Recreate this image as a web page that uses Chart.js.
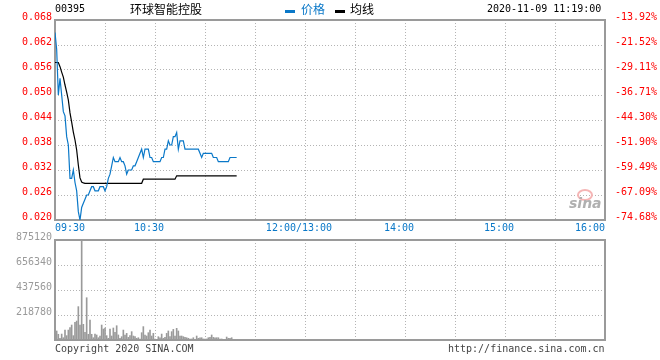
<!DOCTYPE html>
<html>
<head>
<meta charset="utf-8">
<script src="https://cdn.jsdelivr.net/npm/chart.js@4/dist/chart.umd.min.js"></script>
<style>
  body { margin: 0; background: #fff; }
  #wrap { position: relative; width: 660px; height: 360px; overflow: hidden; font-family: "DejaVu Sans Mono", monospace; font-size: 10px; }
  .t { position: absolute; white-space: pre; line-height: 12px; }
  .cjk { font-family: "Noto Sans CJK SC", sans-serif; font-size: 12px; line-height: 14px; }
  canvas { position: absolute; left: 0; }
</style>
</head>
<body>
<div id="wrap">
  <canvas id="priceChart" width="660" height="240" style="top:0"></canvas>
  <canvas id="volChart" width="660" height="130" style="top:230px"></canvas>

  <div class="t" style="left:55px;top:3px;color:#000">00395</div>
  <div class="t cjk" style="left:130px;top:2px;color:#000">环球智能控股</div>
  <div style="position:absolute;left:285px;top:10px;width:10px;height:3px;background:#0a78c8"></div>
  <div class="t cjk" style="left:301px;top:2px;color:#0a78c8">价格</div>
  <div style="position:absolute;left:335px;top:10px;width:10px;height:3px;background:#000"></div>
  <div class="t cjk" style="left:350px;top:2px;color:#000">均线</div>
  <div class="t" style="left:487px;top:3px;color:#000">2020-11-09 11:19:00</div>

  <div style="position:absolute;left:577px;top:189px;width:12px;height:8px;border:2px solid #f5b5b5;border-radius:50%"></div>
  <div class="t" style="left:569px;top:197px;color:#b0b0b0;font-family:'DejaVu Sans',sans-serif;font-size:14px;font-style:italic;font-weight:bold">sina</div>

  <div class="t" style="left:55px;top:343px;color:#444">Copyright 2020 SINA.COM</div>
  <div class="t" style="left:448px;top:343px;color:#444">http://finance.sina.com.cn</div>
</div>
<script>
// minute index from 09:30 (lunch break removed), 330 minutes in a session day
const xTickPos = [0, 60, 150, 210, 270, 330];
const xTickText = ['09:30', '10:30', '12:00/13:00', '14:00', '15:00', '16:00'];

const priceTicks = ['0.020', '0.026', '0.032', '0.038', '0.044', '0.050', '0.056', '0.062', '0.068'];
const pctTicks = ['-74.68%', '-67.09%', '-59.49%', '-51.90%', '-44.30%', '-36.71%', '-29.11%', '-21.52%', '-13.92%'];
const volTicks = ['', '218780', '437560', '656340', '875120'];

const price = [
  0.065, 0.061, 0.050, 0.054, 0.050, 0.046, 0.045, 0.040, 0.038, 0.030,
  0.030, 0.032, 0.029, 0.027, 0.022, 0.020, 0.023, 0.024, 0.025, 0.026,
  0.026, 0.027, 0.028, 0.028, 0.027, 0.027, 0.027, 0.028, 0.028, 0.028,
  0.027, 0.028, 0.030, 0.031, 0.033, 0.035, 0.034, 0.034, 0.034, 0.035,
  0.034, 0.034, 0.033, 0.031, 0.032, 0.032, 0.032, 0.033, 0.033, 0.034,
  0.035, 0.036, 0.037, 0.035, 0.037, 0.037, 0.037, 0.035, 0.035, 0.034,
  0.034, 0.034, 0.034, 0.034, 0.035, 0.035, 0.037, 0.037, 0.039, 0.038,
  0.038, 0.040, 0.040, 0.041, 0.037, 0.039, 0.039, 0.039, 0.037, 0.037,
  0.037, 0.037, 0.037, 0.037, 0.037, 0.037, 0.037, 0.036, 0.035, 0.036,
  0.036, 0.036, 0.036, 0.036, 0.036, 0.035, 0.035, 0.035, 0.034, 0.034,
  0.034, 0.034, 0.034, 0.034, 0.034, 0.035, 0.035, 0.035, 0.035, 0.035
];

const avgPrice = [
  0.0578, 0.0578, 0.0578, 0.0568, 0.0555, 0.0543, 0.0524, 0.0507, 0.0488, 0.0457,
  0.0435, 0.0411, 0.0392, 0.0368, 0.0332, 0.0301, 0.0291, 0.0289, 0.0288, 0.0288,
  0.0288, 0.0288, 0.0288, 0.0288, 0.0288, 0.0288, 0.0288, 0.0288, 0.0288, 0.0288,
  0.0288, 0.0288, 0.0288, 0.0288, 0.0288, 0.0288, 0.0288, 0.0288, 0.0288, 0.0288,
  0.0288, 0.0288, 0.0288, 0.0288, 0.0288, 0.0288, 0.0288, 0.0288, 0.0288, 0.0288,
  0.0288, 0.0288, 0.0288, 0.0298, 0.0298, 0.0298, 0.0298, 0.0298, 0.0298, 0.0298,
  0.0298, 0.0298, 0.0298, 0.0298, 0.0298, 0.0298, 0.0298, 0.0298, 0.0298, 0.0298,
  0.0298, 0.0298, 0.0298, 0.0306, 0.0306, 0.0306, 0.0306, 0.0306, 0.0306, 0.0306,
  0.0306, 0.0306, 0.0306, 0.0306, 0.0306, 0.0306, 0.0306, 0.0306, 0.0306, 0.0306,
  0.0306, 0.0306, 0.0306, 0.0306, 0.0306, 0.0306, 0.0306, 0.0306, 0.0306, 0.0306,
  0.0306, 0.0306, 0.0306, 0.0306, 0.0306, 0.0306, 0.0306, 0.0306, 0.0306, 0.0306
];

const volume = [
  60000, 79000, 50000, 15000, 52000, 20000, 87000, 38000, 87000, 108000,
  131000, 38000, 155000, 166000, 292000, 131000, 875120, 137000, 67000, 370000,
  50000, 175000, 50000, 20000, 52000, 44000, 20000, 35000, 131000, 96000,
  105000, 38000, 15000, 96000, 35000, 105000, 67000, 125000, 44000, 15000,
  29000, 87000, 44000, 58000, 23000, 38000, 73000, 35000, 29000, 15000,
  20000, 9000, 64000, 117000, 44000, 35000, 64000, 87000, 35000, 58000,
  9000, 5000, 29000, 20000, 52000, 15000, 23000, 58000, 79000, 29000,
  73000, 93000, 35000, 102000, 79000, 35000, 35000, 29000, 23000, 20000,
  15000, 9000, 9000, 20000, 5000, 35000, 15000, 20000, 20000, 9000,
  9000, 9000, 20000, 23000, 44000, 23000, 20000, 20000, 20000, 9000,
  9000, 5000, 5000, 26000, 15000, 15000, 20000, 5000, 5000, 5000
];

const BLUE = '#0a78c8';
const GRID = '#b4b4b4';
const mono = { family: 'DejaVu Sans Mono', size: 10 };

// grey box round the plot area, drawn under the data
const frame = {
  id: 'frame',
  beforeDatasetsDraw(chart) {
    const { ctx, chartArea: a } = chart;
    ctx.save();
    ctx.strokeStyle = '#9a9a9a';
    ctx.lineWidth = 2;
    ctx.strokeRect(a.left, a.top, a.right - a.left, a.bottom - a.top);
    ctx.restore();
  }
};

const xScale = (showLabels) => ({
  type: 'linear',
  min: 0,
  max: 330,
  offset: false,
  grid: { color: GRID, drawTicks: false, offset: false },
  border: { display: false, dash: [1, 2] },
  ticks: {
    display: showLabels,
    stepSize: 30,
    autoSkip: false,
    maxRotation: 0,
    align: 'inner',
    padding: 2,
    color: BLUE,
    font: mono,
    callback: (value) => {
      const i = xTickPos.indexOf(value);
      if (i < 0) return '';
      // middle labels sit a little left of their grid line
      return (i === 0 || i === xTickPos.length - 1) ? xTickText[i] : xTickText[i] + '  ';
    }
  },
  afterFit: (scale) => { scale.height = 20; }
});

const toPoints = (arr) => arr.map((v, i) => ({ x: i, y: v }));

new Chart(document.getElementById('priceChart').getContext('2d'), {
  type: 'line',
  data: {
    datasets: [
      {
        label: '价格',
        data: toPoints(price),
        borderColor: BLUE,
        borderWidth: 1.2,
        pointRadius: 0,
        tension: 0,
        yAxisID: 'y'
      },
      {
        label: '均线',
        data: toPoints(avgPrice),
        borderColor: '#000',
        borderWidth: 1.2,
        pointRadius: 0,
        tension: 0,
        yAxisID: 'y'
      }
    ]
  },
  options: {
    responsive: false,
    animation: false,
    layout: { padding: { top: 20 } },
    plugins: { legend: { display: false }, tooltip: { enabled: false } },
    scales: {
      x: xScale(true),
      y: {
        position: 'left',
        min: 0.020,
        max: 0.068,
        grid: { color: GRID, drawTicks: false },
        border: { display: false, dash: [1, 2] },
        ticks: {
          stepSize: 0.006,
          padding: 3,
          labelOffset: -3,
          color: '#ff0000',
          font: mono,
          callback: (v, i) => priceTicks[i]
        },
        afterFit: (scale) => { scale.width = 55; }
      },
      y1: {
        position: 'right',
        min: 0.020,
        max: 0.068,
        grid: { display: false },
        border: { display: false },
        ticks: {
          stepSize: 0.006,
          padding: 2,
          labelOffset: -3,
          color: '#ff0000',
          font: mono,
          callback: (v, i) => pctTicks[i]
        },
        afterFit: (scale) => { scale.width = 55; }
      }
    }
  },
  plugins: [frame]
});

new Chart(document.getElementById('volChart').getContext('2d'), {
  type: 'bar',
  data: {
    datasets: [
      {
        label: 'volume',
        data: toPoints(volume),
        backgroundColor: '#9a9a9a',
        barThickness: 1
      }
    ]
  },
  options: {
    responsive: false,
    animation: false,
    layout: { padding: { top: 10, right: 55 } },
    plugins: { legend: { display: false }, tooltip: { enabled: false } },
    scales: {
      x: xScale(false),
      y: {
        min: 0,
        max: 875120,
        grid: { color: GRID, drawTicks: false },
        border: { display: false, dash: [1, 2] },
        ticks: {
          stepSize: 218780,
          padding: 3,
          labelOffset: -3,
          color: '#9a9a9a',
          font: mono,
          callback: (v, i) => volTicks[i]
        },
        afterFit: (scale) => { scale.width = 55; }
      }
    }
  },
  plugins: [frame]
});
</script>
</body>
</html>
